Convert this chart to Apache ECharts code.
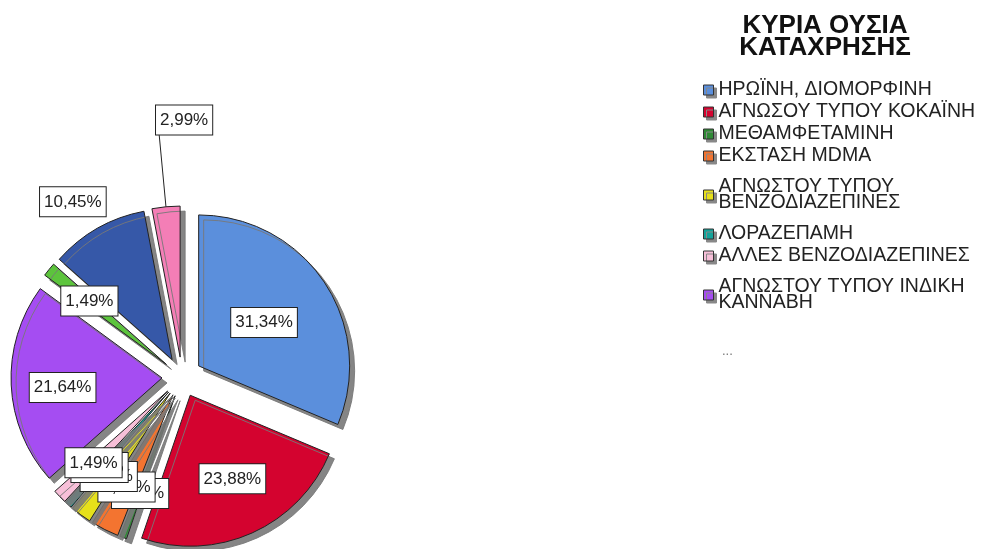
<!DOCTYPE html>
<html>
<head>
    <meta charset="utf-8">
    <title>ECharts</title>
    <script src="https://cdn.jsdelivr.net/npm/echarts@6/dist/echarts.min.js"></script>
    <style>
        html, body { margin: 0; padding: 0; background: #fff; }
    </style>
</head>
<body>
<div id="main" style="width: 982px;height:549px;"></div>
<script type="text/javascript">
    // κατηγορίες (όπως στο υπόμνημα, οι 3 τελευταίες είναι στο "...")
    var names = [
        'ΗΡΩΪΝΗ, ΔΙΟΜΟΡΦΙΝΗ',
        'ΑΓΝΩΣΟΥ ΤΥΠΟΥ ΚΟΚΑΪΝΗ',
        'ΜΕΘΑΜΦΕΤΑΜΙΝΗ',
        'ΕΚΣΤΑΣΗ MDMA',
        'ΑΓΝΩΣΤΟΥ ΤΥΠΟΥ\nΒΕΝΖΟΔΙΑΖΕΠΙΝΕΣ',
        'ΛΟΡΑΖΕΠΑΜΗ',
        'ΑΛΛΕΣ ΒΕΝΖΟΔΙΑΖΕΠΙΝΕΣ',
        'ΑΓΝΩΣΤΟΥ ΤΥΠΟΥ ΙΝΔΙΚΗ\nΚΑΝΝΑΒΗ',
        'ΑΛΛΟ 1',
        'ΑΛΛΟ 2',
        'ΑΛΛΟ 3'
    ];
    // ποσοστά (%)
    var percents = [31.34, 23.88, 0.75, 2.99, 2.24, 0.75, 1.49, 21.64, 1.49, 10.45, 2.99];
    var colors = ['#5b8fdc', '#d4032f', '#2f8a35', '#f37430', '#e6e01a', '#13a39a',
                  '#f7bfd8', '#a54df2', '#5cc43c', '#3658a8', '#f47eb6'];
    // μετατόπιση ετικετών (όπως στο SPSS)
    var labelShift = [[0, 0], [10, 12], [-8, 24], [-11, 22], [-15, 20], [-17, 17],
                      [-18, 17], [-21, 6], [-16, -14], [19, -16], [58, -15]];
    var legendCount = 8;

    var myChart = echarts.init(document.getElementById('main'));

    var pieData = [];
    for (var i = 0; i < names.length; i++) {
        var item = {
            name: names[i],
            value: percents[i],
            selected: true,
            itemStyle: {color: colors[i]}
        };
        if (i == 9) {
            // 10,45% έξω από το κομμάτι, χωρίς γραμμή
            item.label = {position: 'outside'};
            item.labelLine = {show: false, length: 12, length2: 0};
        } else if (i == 10) {
            item.label = {position: 'outside'};
            item.labelLine = {show: true, length: 72, length2: 0,
                lineStyle: {color: '#222', width: 1}};
        }
        pieData.push(item);
    }

    // υπόμνημα: τα ονόματα σε δύο γραμμές παίρνουν λίγο περισσότερο χώρο
    var legendData = names.slice(0, legendCount).map(function (n) {
        if (n.indexOf('\n') >= 0) {
            return {name: n, textStyle: {padding: [11, 0, 11, 0]}};
        }
        return {name: n};
    });

    var option = {
        animation: false,
        title: {
            text: 'ΚΥΡΙΑ ΟΥΣΙΑ\nΚΑΤΑΧΡΗΣΗΣ',
            left: 820,
            top: 10,
            textAlign: 'center',
            textStyle: {
                fontFamily: 'Liberation Sans, Arial, sans-serif',
                fontSize: 26,
                fontWeight: 'bold',
                lineHeight: 22,
                color: '#111'
            }
        },
        legend: {
            orient: 'vertical',
            left: 703,
            top: 80,
            padding: 0,
            data: legendData,
            icon: 'rect',
            itemWidth: 10,
            itemHeight: 10,
            itemGap: 2,
            selectedMode: false,
            itemStyle: {
                borderColor: '#333',
                borderWidth: 1,
                shadowColor: '#888',
                shadowOffsetX: 3,
                shadowOffsetY: 3,
                shadowBlur: 0
            },
            textStyle: {
                fontFamily: 'Liberation Sans, Arial, sans-serif',
                fontSize: 19.5,
                lineHeight: 16,
                color: '#222'
            }
        },
        graphic: [{
            type: 'text',
            left: 722,
            top: 345,
            style: {text: '...', fill: '#777', font: '13px Liberation Sans, Arial'}
        }],
        series: [{
            type: 'pie',
            center: [182, 377],
            radius: 151,
            startAngle: 90,
            clockwise: true,
            selectedMode: 'multiple',
            selectedOffset: 20,
            avoidLabelOverlap: false,
            minShowLabelAngle: 0,
            labelLayout: function (params) {
                var s = labelShift[params.dataIndex];
                return {hideOverlap: false, dx: s[0], dy: s[1]};
            },
            emphasis: {disabled: true},
            itemStyle: {
                borderColor: '#222',
                borderWidth: 1,
                shadowColor: 'rgba(120,120,120,0.9)',
                shadowOffsetX: 5,
                shadowOffsetY: 5,
                shadowBlur: 0
            },
            label: {
                show: true,
                position: 'inside',
                formatter: function (p) {
                    return p.value.toFixed(2).replace('.', ',') + '%';
                },
                fontFamily: 'Liberation Sans, Arial, sans-serif',
                fontSize: 17,
                lineHeight: 18,
                color: '#222',
                backgroundColor: '#fff',
                borderColor: '#222',
                borderWidth: 1,
                padding: [6, 4, 5, 4]
            },
            data: pieData
        }]
    };

    myChart.setOption(option);
</script>
</body>
</html>
